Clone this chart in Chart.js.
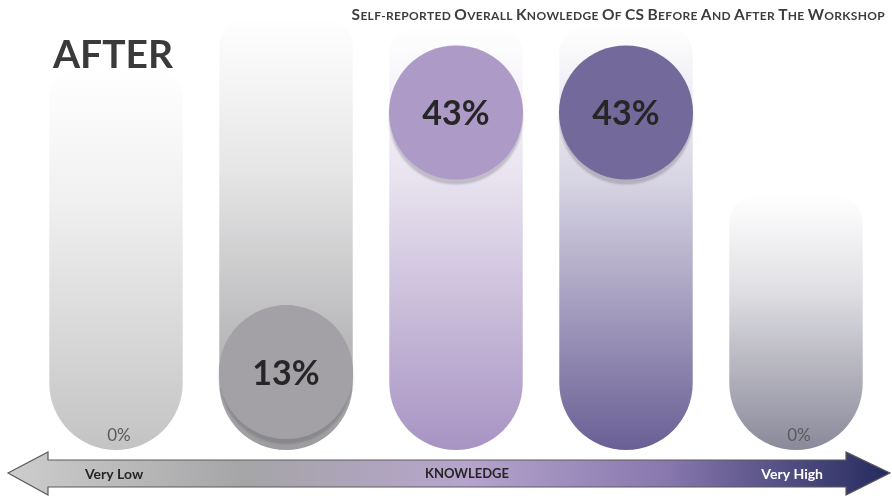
<!DOCTYPE html>
<html>
<head>
<meta charset="utf-8">
<script src="https://cdn.jsdelivr.net/npm/chart.js@4.4.1/dist/chart.umd.min.js"></script>
<style>
  body { margin: 0; background: #ffffff; }
  canvas { display: block; }
</style>
</head>
<body>
<canvas id="knowledgeChart" width="892" height="496"></canvas>
<script>
// chart data
const levels = ['Very Low', 'Low', 'Medium', 'High', 'Very High'];
const afterPct = [0, 13, 43, 43, 0];
const pillTops = [48, 54, 53, 53, 33.5];  // how far each backdrop pill reaches (same units as y)
const axisTitle = 'KNOWLEDGE';
const chartTitle = 'Self-reported Overall Knowledge Of CS Before And After The Workshop';
const panelLabel = 'AFTER';

// colours
const pillColors = ['#c3c3c3', '#9c9c9e', '#a893c3', '#6a5f95', '#8a899a'];
const circleColors = ['#c3c3c3', '#a3a1a6', '#ad9ac7', '#736a9b', '#8a899a'];
const yMin = 4, yMax = 56;
const fontFamily = 'Lato, "Open Sans", sans-serif';

// gradient for each pill, white at its top and full colour at the bottom
function pillGradient(c) {
  const chart = c.chart;
  const i = c.dataIndex;
  const area = chart.chartArea;
  if (!area || i === undefined) return pillColors[i || 0];
  const top = chart.scales.y.getPixelForValue(pillTops[i]);
  const g = chart.ctx.createLinearGradient(0, top, 0, area.bottom);
  g.addColorStop(0, 'rgba(255,255,255,1)');
  g.addColorStop(0.35, Chart.helpers.color(pillColors[i]).mix(Chart.helpers.color('#ffffff'), 0.25).rgbString());
  g.addColorStop(1, pillColors[i]);
  return g;
}

//draw the small-caps heading, the AFTER label and the knowledge arrow
const decorations = {
  id: 'decorations',
  beforeDatasetsDraw(chart) {
    const ctx = chart.ctx;
    ctx.save();

    // heading in small caps, right aligned
    const big = 'bold 15.5px ' + fontFamily;
    const small = 'bold 12px ' + fontFamily;
    const isBig = ch => ch === ch.toUpperCase() && ch !== ' ' && ch !== '-';
    let total = 0;
    for (const ch of chartTitle) {
      ctx.font = isBig(ch) ? big : small;
      total += ctx.measureText(ch.toUpperCase()).width + 0.3;
    }
    let x = 885 - total;
    ctx.fillStyle = '#3d3d3d';
    ctx.textBaseline = 'alphabetic';
    for (const ch of chartTitle) {
      ctx.font = isBig(ch) ? big : small;
      ctx.fillText(ch.toUpperCase(), x, 20);
      x += ctx.measureText(ch.toUpperCase()).width + 0.3;
    }

    // panel label
    ctx.font = 'bold 39px ' + fontFamily;
    ctx.fillStyle = '#3a3a3a';
    ctx.fillText(panelLabel, 53, 68);
    ctx.restore();
  },
  afterDraw(chart) {
    const ctx = chart.ctx;
    const w = chart.width;
    ctx.save();
    ctx.beginPath();
    ctx.moveTo(8, 473);
    ctx.lineTo(48, 452);
    ctx.lineTo(48, 460);
    ctx.lineTo(846, 460);
    ctx.lineTo(846, 452);
    ctx.lineTo(w - 2, 473);
    ctx.lineTo(846, 495);
    ctx.lineTo(846, 487);
    ctx.lineTo(48, 487);
    ctx.lineTo(48, 495);
    ctx.closePath();
    const g = ctx.createLinearGradient(8, 0, w - 2, 0);
    g.addColorStop(0, '#cdcdcd');
    g.addColorStop(0.27, '#a5a5a7');
    g.addColorStop(0.52, '#b6a4cd');
    g.addColorStop(0.75, '#8677ad');
    g.addColorStop(1, '#252a5e');
    ctx.fillStyle = g;
    ctx.fill();
    ctx.strokeStyle = '#5a5a5a';
    ctx.lineWidth = 1.2;
    ctx.stroke();

    ctx.font = 'bold 14px ' + fontFamily;
    ctx.textBaseline = 'middle';
    ctx.fillStyle = '#262626';
    ctx.textAlign = 'left';
    ctx.fillText(levels[0], 85, 474);
    ctx.textAlign = 'center';
    ctx.font = 'bold 13px ' + fontFamily;
    ctx.fillText(axisTitle, 467, 474);
    ctx.textAlign = 'right';
    ctx.font = 'bold 14px ' + fontFamily;
    ctx.fillStyle = '#ffffff';
    ctx.fillText(levels[levels.length - 1], 823, 474);
    ctx.restore();
  }
};

// shadow under the value circles
const circleShadow = {
  id: 'circleShadow',
  beforeDatasetDraw(chart, args) {
    if (args.index !== 1) return;
    const ctx = chart.ctx;
    ctx.save();
    ctx.shadowColor = 'rgba(70,68,80,0.25)';
    ctx.shadowBlur = 2;
    ctx.shadowOffsetY = 5;
  },
  afterDatasetDraw(chart, args) {
    if (args.index !== 1) return;
    chart.ctx.restore();
  }
};

// percentage labels
const pctLabels = {
  id: 'pctLabels',
  afterDatasetsDraw(chart) {
    const ctx = chart.ctx;
    const xs = chart.scales.x, ys = chart.scales.y;
    ctx.save();
    ctx.textAlign = 'center';
    ctx.textBaseline = 'middle';
    afterPct.forEach((v, i) => {
      const x = xs.getPixelForValue(i);
      if (v > 0) {
        ctx.font = 'bold 34px ' + fontFamily;
        ctx.fillStyle = '#262626';
        ctx.fillText(v + '%', x, ys.getPixelForValue(v) + 2);
      } else {
        ctx.font = '17px ' + fontFamily;
        ctx.fillStyle = '#5a5a5a';
        ctx.fillText(v + '%', x + 3, chart.chartArea.bottom - 14);
      }
    });
    ctx.restore();
  }
};

var ctx = document.getElementById('knowledgeChart').getContext('2d');
var chart = new Chart(ctx, {
  type: 'bar',
  data: {
    labels: levels,
    datasets: [{
      label: 'pill',
      data: pillTops.map(t => [yMin, t]),
      backgroundColor: pillGradient,
      borderSkipped: false,
      borderRadius: { topLeft: 28, topRight: 28, bottomLeft: 67, bottomRight: 67 },
      barPercentage: 0.785,
      categoryPercentage: 1,
      order: 2
    }, {
      type: 'line',
      label: 'After',
      data: afterPct.map(v => v > 0 ? v : null),
      showLine: false,
      pointRadius: 67,
      pointHoverRadius: 67,
      pointBorderWidth: 0,
      pointBackgroundColor: circleColors,
      pointBorderColor: circleColors,
      clip: false,
      order: 1
    }]
  },
  options: {
    responsive: false,
    animation: false,
    events: [],
    layout: { autoPadding: false, padding: { left: 31, right: 11, top: 0, bottom: 46 } },
    plugins: {
      legend: { display: false },
      tooltip: { enabled: false },
      title: { display: false }
    },
    scales: {
      x: { display: false, offset: true },
      y: { display: false, min: yMin, max: yMax }
    }
  },
  plugins: [decorations, circleShadow, pctLabels]
});
</script>
</body>
</html>
